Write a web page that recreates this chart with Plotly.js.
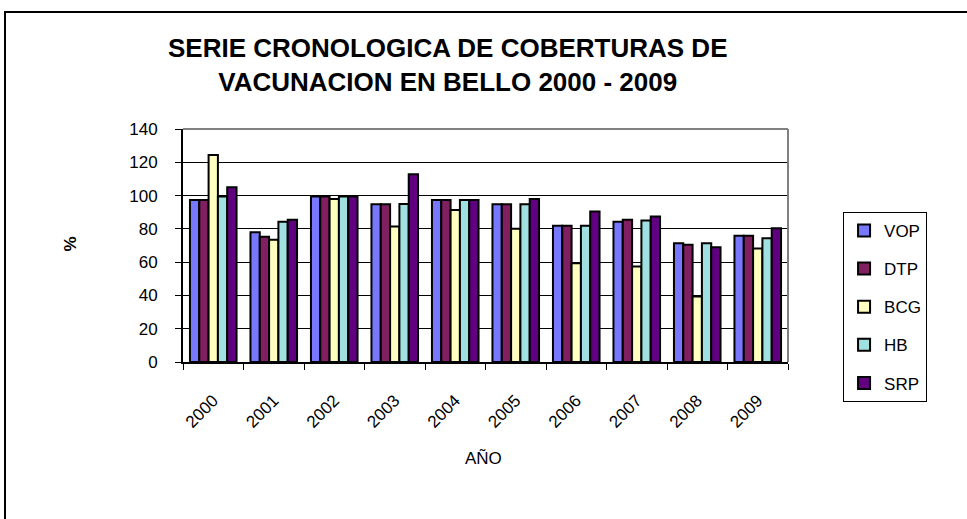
<!DOCTYPE html>
<html>
<head>
<meta charset="utf-8">
<script src="https://cdn.plot.ly/plotly-3.0.1.min.js"></script>
<style>html,body{margin:0;padding:0;background:#fff;}#chart{width:967px;height:519px;}</style>
</head>
<body>
<div id="chart"></div>
<script>
const years = ['2000','2001','2002','2003','2004','2005','2006','2007','2008','2009'];
const seriesNames = ['VOP','DTP','BCG','HB','SRP'];
const VOP = [97.4, 78, 99.4, 94.8, 97.4, 94.8, 81.8, 84.3, 71.4, 75.8];
const DTP = [97.4, 75.2, 99.4, 94.8, 97.4, 94.8, 81.8, 85.4, 70.4, 75.8];
const BCG = [124.4, 73.4, 98, 81.4, 91.4, 80, 59.4, 57.4, 39.4, 68.2];
const HB = [99.4, 84.2, 99.4, 95, 97.4, 94.8, 81.8, 85, 71.4, 74.4];
const SRP = [105, 85.4, 99.4, 112.8, 97.4, 98, 90.4, 87.4, 69, 80.4];
const yTicks = [0, 20, 40, 60, 80, 100, 120, 140];
const colors = ['#7878FF', '#802060', '#FFFFC0', '#A0E0E0', '#600080'];

const values = [VOP, DTP, BCG, HB, SRP];
const data = seriesNames.map((n, i) => ({
  type: 'bar', name: n, x: years, y: values[i], legendgroup: n,
  marker: {color: colors[i], line: {color: '#000', width: 2}},
  hoverinfo: 'x+y+name'
}));

const font = 'Liberation Sans, Arial, sans-serif';
const layout = {
  width: 967, height: 519,
  margin: {l: 183, r: 179, t: 129, b: 157},
  paper_bgcolor: '#fff', plot_bgcolor: '#fff',
  font: {family: font, size: 17, color: '#000'},
  barmode: 'group', bargap: 0.23, bargroupgap: 0,
  title: {text: 'SERIE CRONOLOGICA DE COBERTURAS DE<br>VACUNACION EN BELLO 2000 - 2009',
    font: {family: font, size: 26, color: '#000', weight: 'bold'},
    x: 0.463, xanchor: 'center', y: 0.89, yanchor: 'middle'},
  xaxis: {type: 'category', tickangle: -45, ticks: 'outside', ticklen: 6, tickcolor: '#000',
    tickson: 'boundaries', showline: true, linecolor: '#000', linewidth: 2, mirror: false,
    showgrid: false, tickfont: {size: 17, family: font}, ticklabelstandoff: 20, fixedrange: true},
  yaxis: {range: [0, 140], tickvals: yTicks, ticks: 'outside', ticklen: 6, tickcolor: '#000',
    showline: true, linecolor: '#000', linewidth: 2, showgrid: true, gridcolor: '#000', gridwidth: 1,
    zeroline: false, tickfont: {size: 17, family: font}, ticklabelstandoff: 14, fixedrange: true},
  legend: {x: 1.091, xanchor: 'left', y: 0.644, yanchor: 'top', bordercolor: '#000', borderwidth: 1,
    bgcolor: '#fff', font: {size: 17, family: font}, traceorder: 'grouped', tracegroupgap: 13,
    itemwidth: 30},
  shapes: [
    {type: 'line', xref: 'paper', yref: 'paper', x0: 0, x1: 1, y0: 1, y1: 1, line: {color: '#808080', width: 2}},
    {type: 'line', xref: 'paper', yref: 'paper', x0: 1, x1: 1, y0: 0, y1: 1, line: {color: '#808080', width: 2}},
    {type: 'rect', xref: 'paper', yref: 'paper', x0: -0.2942, x1: 1.35, y0: -0.75, y1: 1.502, line: {color: '#000', width: 2}, layer: 'below'}
  ],
  annotations: [
    {text: '%', xref: 'paper', yref: 'paper', x: -0.205, y: 0.506, showarrow: false, textangle: -90,
      font: {size: 17, family: font, weight: 'bold'}},
    {text: 'AÑO', xref: 'paper', yref: 'paper', x: 0.4967, y: -0.464, showarrow: false,
      font: {size: 17, family: font}}
  ]
};
Plotly.newPlot('chart', data, layout, {displayModeBar: false, staticPlot: true});
</script>
</body>
</html>
